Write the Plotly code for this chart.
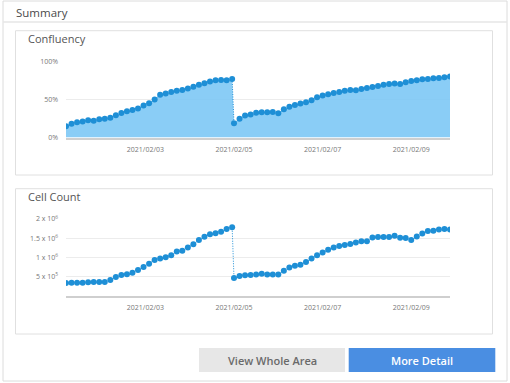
import plotly.graph_objects as go
import pandas as pd

W, H = 510, 383

# ---------------- data ----------------
tick_dates = ["2021-02-03", "2021-02-05", "2021-02-07", "2021-02-09"]
tick_labels = ["2021/02/03", "2021/02/05", "2021/02/07", "2021/02/09"]

times_seg1 = pd.date_range("2021-02-01 05:00", periods=31, freq="3h")
times_seg2 = pd.date_range("2021-02-05 00:00", periods=40, freq="3h")

confluency_seg1 = [15.0, 18.3, 20.2, 21.0, 22.6, 22.2, 24.1, 24.9, 26.0, 29.3,
                   32.3, 34.6, 36.4, 38.2, 42.3, 45.3, 50.2, 56.4, 57.9, 59.9,
                   61.6, 62.6, 64.8, 66.8, 69.6, 71.6, 73.8, 75.6, 75.8, 75.6, 77.1]
confluency_seg2 = [18.8, 24.7, 29.1, 30.5, 32.7, 33.3, 33.3, 33.8, 32.0, 37.2,
                   40.7, 43.0, 44.7, 46.5, 49.1, 53.0, 55.3, 57.0, 58.8, 60.1,
                   61.6, 62.7, 62.3, 64.0, 65.4, 66.5, 68.0, 69.7, 70.6, 71.1,
                   70.6, 72.8, 74.6, 75.4, 76.8, 77.2, 78.1, 78.5, 79.4, 80.5]

cell_count_seg1 = [330000, 340000, 340000, 340000, 350000, 355000, 355000, 360000, 410000, 485000,
                   540000, 560000, 600000, 670000, 750000, 830000, 930000, 970000, 1000000, 1055000,
                   1155000, 1175000, 1255000, 1340000, 1455000, 1540000, 1600000, 1630000, 1665000, 1740000,
                   1785000]
cell_count_seg2 = [460000, 515000, 535000, 540000, 555000, 570000, 555000, 550000, 550000, 650000,
                   735000, 780000, 810000, 877000, 972000, 1055000, 1124000, 1198000, 1255000, 1294000,
                   1320000, 1345000, 1388000, 1420000, 1420000, 1515000, 1528000, 1528000, 1528000, 1562000,
                   1510000, 1505000, 1454000, 1545000, 1620000, 1684000, 1693000, 1723000, 1736000, 1727000]

conf_ticks = [0, 50, 100]
conf_tick_text = ["0%", "50%", "100%"]
count_ticks = [500000, 1000000, 1500000, 2000000]
count_tick_text = ["5 x 10<sup>5</sup>", "1 x 10<sup>6</sup>", "1.5 x 10<sup>6</sup>", "2 x 10<sup>6</sup>"]

# ---------------- styling ----------------
FONT = "Open Sans"
MARKER = "#1e8fd6"
FILL = "rgba(125,200,245,0.9)"
GRID = "#ececec"
TICKC = "#777777"


def px(x):
    return x / W


def py(y):
    return 1 - y / H


times = list(times_seg1) + list(times_seg2)
conf = confluency_seg1 + confluency_seg2
count = cell_count_seg1 + cell_count_seg2

fig = go.Figure()
fig.add_trace(go.Scatter(
    x=times, y=conf, mode="lines+markers", fill="tozeroy", fillcolor=FILL,
    line=dict(color=MARKER, width=1, dash="1px,1.5px"),
    marker=dict(color=MARKER, size=6), xaxis="x", yaxis="y", hoverinfo="skip",
))
fig.add_trace(go.Scatter(
    x=times, y=count, mode="lines+markers",
    line=dict(color=MARKER, width=1, dash="1px,1.5px"),
    marker=dict(color=MARKER, size=6), xaxis="x2", yaxis="y2", hoverinfo="skip",
))

xr = [times[0], times[-1]]
xcommon = dict(type="date", range=xr, tickvals=tick_dates, ticktext=tick_labels,
               showgrid=False, zeroline=False, showline=True, linecolor="#cfcfcf",
               linewidth=1.5, ticks="", tickfont=dict(family=FONT, size=7, color=TICKC),
               ticklabelstandoff=4, fixedrange=True, automargin=False)
ycommon = dict(showgrid=True, gridcolor=GRID, gridwidth=1, zeroline=False,
               showline=False, ticks="", tickfont=dict(family=FONT, size=7, color=TICKC),
               ticklabelstandoff=7, fixedrange=True, automargin=False)

fig.update_layout(
    template="none",
    width=W, height=H, autosize=False,
    margin=dict(l=0, r=0, t=0, b=0, pad=0, autoexpand=False),
    paper_bgcolor="white", plot_bgcolor="rgba(0,0,0,0)", showlegend=False,
    xaxis=dict(domain=[px(66), px(450)], anchor="y", **xcommon),
    yaxis=dict(domain=[py(137.5), py(61.7)], range=[0, 100], anchor="x",
               tickvals=conf_ticks, ticktext=conf_tick_text, **ycommon),
    xaxis2=dict(domain=[px(66), px(450)], anchor="y2", **xcommon),
    yaxis2=dict(domain=[py(295.7), py(219)], range=[0, 2000000], anchor="x2",
                tickvals=count_ticks, ticktext=count_tick_text, **ycommon),
)

shapes = [
    # outer panel
    dict(type="rect", x0=px(3), x1=px(507), y0=py(381), y1=py(1), xref="paper", yref="paper",
         line=dict(color="#dcdcdc", width=1), fillcolor="white", layer="below"),
    # header separator
    dict(type="line", x0=px(3), x1=px(507), y0=py(22), y1=py(22), xref="paper", yref="paper",
         line=dict(color="#e6e6e6", width=1.5), layer="below"),
    # cards
    dict(type="rect", x0=px(15.5), x1=px(492.5), y0=py(175), y1=py(30.7), xref="paper", yref="paper",
         line=dict(color="#e0e0e0", width=1), fillcolor="white", layer="below"),
    dict(type="rect", x0=px(15.5), x1=px(492.5), y0=py(334), y1=py(188.7), xref="paper", yref="paper",
         line=dict(color="#e0e0e0", width=1), fillcolor="white", layer="below"),
    # buttons
    dict(type="rect", x0=px(199), x1=px(345), y0=py(372), y1=py(348), xref="paper", yref="paper",
         line=dict(width=0), fillcolor="#e7e7e7", layer="below"),
    dict(type="rect", x0=px(348.7), x1=px(495.3), y0=py(372), y1=py(348), xref="paper", yref="paper",
         line=dict(width=0), fillcolor="#4a8ee2", layer="below"),
]
fig.update_layout(shapes=shapes)

annos = [
    dict(text="Summary", x=px(14), y=py(12.5), xanchor="left", yanchor="middle",
         font=dict(family=FONT, size=11.5, color="#4a4a4a")),
    dict(text="Confluency", x=px(26), y=py(38.5), xanchor="left", yanchor="middle",
         font=dict(family=FONT, size=11, color="#555555")),
    dict(text="Cell Count", x=px(26), y=py(196), xanchor="left", yanchor="middle",
         font=dict(family=FONT, size=11, color="#555555")),
    dict(text="View Whole Area", x=px(272), y=py(360), xanchor="center", yanchor="middle",
         font=dict(family=FONT, size=11, color="#6a6a6a", weight=600)),
    dict(text="More Detail", x=px(422), y=py(360), xanchor="center", yanchor="middle",
         font=dict(family=FONT, size=11, color="white", weight=600)),
]
for a in annos:
    a.update(xref="paper", yref="paper", showarrow=False)
fig.update_layout(annotations=annos)

post = ("document.documentElement.style.margin='0';"
        "document.body.style.margin='0';"
        "document.body.style.overflow='hidden';"
        "var d=document.getElementById('{plot_id}');"
        "d.style.position='fixed';d.style.top='0px';d.style.left='0px';")

fig.write_html("out.html", config={"displayModeBar": False}, post_script=post)
